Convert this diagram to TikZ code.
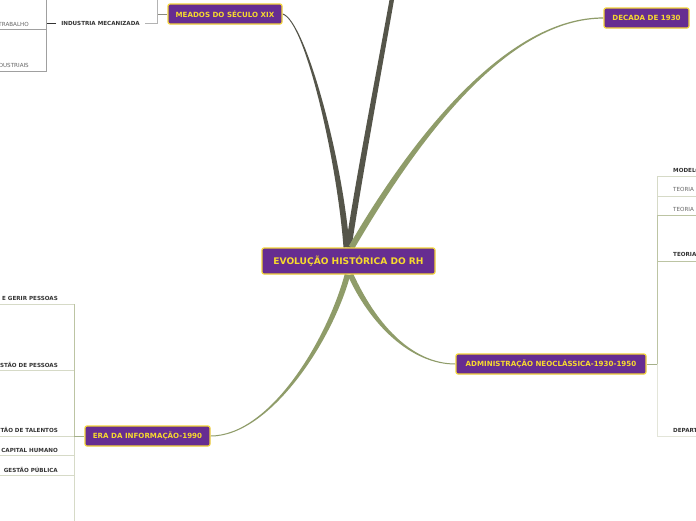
\documentclass[tikz,border=0pt]{standalone}
\usepackage{fontspec}
\setmainfont{DejaVu Sans}
\usetikzlibrary{calc,backgrounds}
\definecolor{purp}{HTML}{662D91}
\definecolor{yel}{HTML}{F2D33A}
\definecolor{ytext}{HTML}{F7DA2E}
\definecolor{darkbr}{HTML}{55554A}
\definecolor{greenbr}{HTML}{8F9C69}
\definecolor{subdark}{HTML}{333333}
\definecolor{subgray}{HTML}{666666}
\definecolor{lgreen}{HTML}{A5B089}
\definecolor{mgreen}{HTML}{BCC4A3}
\definecolor{pgreen}{HTML}{D6DAC7}
\definecolor{vpgreen}{HTML}{E3E5D9}
\definecolor{lgray}{HTML}{A0A0A0}
\definecolor{mgray}{HTML}{8A8A80}
\newcommand\taperbranch[7]{%
  \fill[#1] ($(#2)!#6!90:(#3)$) .. controls ($(#3)!#6!-90:(#2)$) and ($(#4)!#7!90:(#5)$) .. ($(#5)!#7!-90:(#4)$)
   -- ($(#5)!#7!90:(#4)$) .. controls ($(#4)!#7!-90:(#5)$) and ($(#3)!#6!90:(#2)$) .. ($(#2)!#6!-90:(#3)$) -- cycle;}
\tikzset{
  topic/.style={draw=yel, line width=1.2pt, fill=purp, text=ytext, rounded corners=2pt,
    font=\bfseries\fontsize{7.1}{8}\selectfont, minimum height=20pt, inner sep=0pt},
  central/.style={topic, font=\bfseries\fontsize{9.1}{10}\selectfont, minimum height=26pt},
  sub/.style={font=\bfseries\fontsize{5.6}{6}\selectfont, text=subdark, inner sep=1pt},
  subn/.style={font=\fontsize{5.6}{6}\selectfont, text=subgray, inner sep=1pt},
  thin/.style={line width=0.9pt}
}
\begin{document}
\begin{tikzpicture}[x=1pt,y=-1pt]
\useasboundingbox (0,0) rectangle (696,520);
\clip (0,0) rectangle (696,520);
% main topics
\node[central, minimum width=173pt] (c) at (348.5,261) {EVOLUÇÃO HISTÓRICA DO RH};
\node[topic, minimum width=114pt] (m) at (225,14) {MEADOS DO SÉCULO XIX};
\node[topic, minimum width=85pt] (d) at (646.5,18) {DECADA DE 1930};
\node[topic, minimum width=190pt] (a) at (551,364) {ADMINISTRAÇÃO NEOCLÁSSICA-1930-1950};
\node[topic, minimum width=125pt] (e) at (147.5,436) {ERA DA INFORMAÇÃO-1990};
\coordinate (top) at (397,-30);
% sub topics
\node[sub, inner xsep=5pt] (im) at (100.5,23.3) {INDUSTRIA MECANIZADA};
\node[subn, anchor=east] (t1) at (30,24) {TRABALHO};
\node[subn, anchor=east] (t2) at (30,65.7) {DUSTRIAIS};
\node[sub, anchor=west] (r1) at (672,170) {MODELO};
\node[subn, anchor=west] (r2) at (672,189.5) {TEORIA};
\node[subn, anchor=west] (r3) at (672,209) {TEORIA};
\node[sub, anchor=west] (r4) at (672,254.5) {TEORIA};
\node[sub, anchor=west] (r5) at (672,430) {DEPART};
\node[sub, anchor=east] (l1) at (59,298.3) {E GERIR PESSOAS};
\node[sub, anchor=east] (l2) at (59,364.5) {STÃO DE PESSOAS};
\node[sub, anchor=east] (l3) at (59,430) {TÃO DE TALENTOS};
\node[sub, anchor=east] (l4) at (59,450) {CAPITAL HUMANO};
\node[sub, anchor=east] (l5) at (59,469.5) {GESTÃO PÚBLICA};
% junctions
\coordinate (j1) at (157,14);
\coordinate (j1t) at (157,-5);
\coordinate (j2) at (46.7,23.3);
\coordinate (j2t) at (46.7,-5);
\coordinate (ja) at (657,364);
\coordinate (je) at (74.3,436);
\coordinate (jeb) at (74.3,530);
\begin{pgfonlayer}{background}
\fill[white] (0,0) rectangle (696,520);
% branches
\taperbranch{darkbr}{c.north}{360,170}{385,40}{top}{3pt}{2.2pt}
\taperbranch{darkbr}{$(c.north)+(-2,0)$}{340,160}{305,20}{m.east}{3pt}{0.5pt}
\taperbranch{greenbr}{$(c.north)+(3,0)$}{420,130}{510,18}{d.west}{3pt}{0.6pt}
\taperbranch{greenbr}{$(c.south)+(2,0)$}{372,322}{410,364}{a.west}{2.8pt}{0.5pt}
\taperbranch{greenbr}{$(c.south)+(-1,0)$}{330,340}{270,436}{e.east}{2.8pt}{0.5pt}
% top-left connectors
\draw[thin, mgray] (m.west) -- (j1);
\draw[thin, lgray!80] (j1t) -- (j1 |- im.east) -- (im.east);
\draw[thin, subdark] (im.west) -- (j2);
\draw[thin, lgray] (j2t) -- (46.7,71.7);
\draw[thin, lgray] (46.7,29.3) -- (-5,29.3);
\draw[thin, lgray] (46.7,71.7) -- (-5,71.7);
% right connectors
\draw[thin, vpgreen] (ja) |- (700,436.5);
\draw[thin, pgreen] (ja) |- (700,176.5);
\draw[thin, pgreen] (ja) |- (700,196);
\draw[thin, mgreen] (ja) |- (700,215.5);
\draw[thin, mgreen] (ja) |- (700,261);
\draw[thin, lgreen] (a.east) -- (ja);
% left-bottom connectors
\draw[thin, pgreen] (je) -- (jeb);
\draw[thin, mgreen] (je) -- (74.3,304.3);
\draw[thin, pgreen] (74.3,304.3) -- (-5,304.3);
\draw[thin, pgreen] (74.3,370.7) -- (-5,370.7);
\draw[thin, pgreen] (74.3,436) -- (-5,436);
\draw[thin, pgreen] (74.3,455.7) -- (-5,455.7);
\draw[thin, pgreen] (74.3,475.7) -- (-5,475.7);
\draw[thin, lgreen] (e.west) -- (je);
\end{pgfonlayer}
\end{tikzpicture}
\end{document}
